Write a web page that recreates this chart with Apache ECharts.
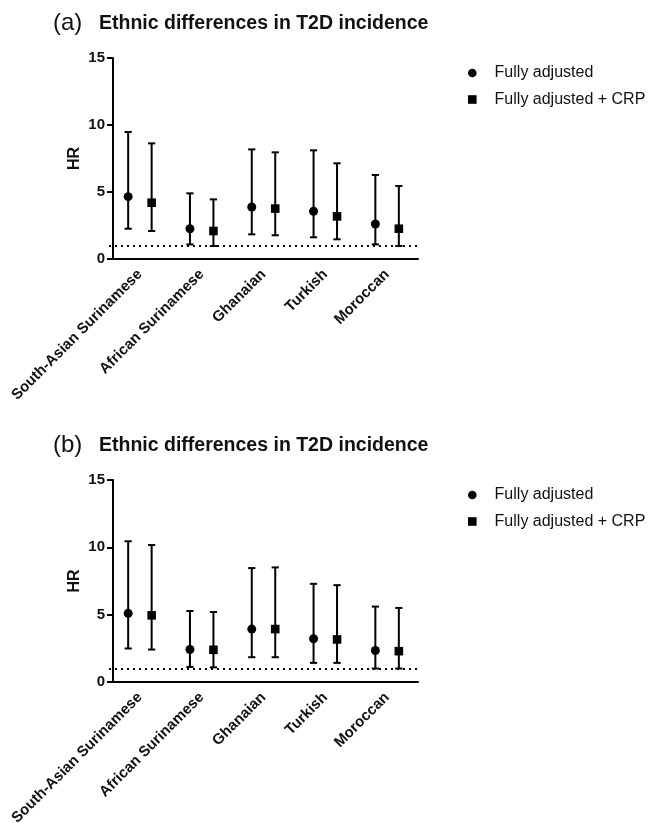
<!DOCTYPE html>
<html>
<head>
<meta charset="utf-8">
<script src="https://cdn.jsdelivr.net/npm/echarts@6/dist/echarts.min.js"></script>
<style>
html,body{margin:0;padding:0;background:#fff;}
#chart{width:648px;height:823px;}
</style>
</head>
<body>
<div id="chart"></div>
<script>
const categories = ['South-Asian Surinamese','African Surinamese','Ghanaian','Turkish','Moroccan'];
const seriesNames = ['Fully adjusted','Fully adjusted + CRP'];
const panelLabels = ['(a)','(b)'];
const panelTitle = 'Ethnic differences in T2D incidence';
const yAxisName = 'HR';
const yMin = 0, yMax = 15, yInterval = 5;
const refLine = 1;

// Panel (a)
const aFullHR = [4.65, 2.26, 3.88, 3.56, 2.61];
const aFullLo = [2.26, 1.09, 1.84, 1.62, 1.09];
const aFullHi = [9.48, 4.90, 8.18, 8.11, 6.27];
const aCrpHR  = [4.20, 2.09, 3.76, 3.18, 2.26];
const aCrpLo  = [2.09, 0.97, 1.77, 1.47, 0.97];
const aCrpHi  = [8.63, 4.45, 7.96, 7.14, 5.45];

// Panel (b)
const bFullHR = [5.10, 2.41, 3.93, 3.21, 2.34];
const bFullLo = [2.49, 1.12, 1.84, 1.42, 1.00];
const bFullHi = [10.45, 5.27, 8.46, 7.29, 5.60];
const bCrpHR  = [4.95, 2.39, 3.93, 3.16, 2.29];
const bCrpLo  = [2.41, 1.09, 1.84, 1.42, 1.00];
const bCrpHi  = [10.17, 5.20, 8.51, 7.19, 5.50];

const FONT = 'Arial, "Liberation Sans", Helvetica, sans-serif';

function rows(hr, lo, hi){ return hr.map((v,i)=>[i, v, lo[i], hi[i]]); }

function makeRender(side, shape){
  return function(params, api){
    const x = api.value(0);
    const p = api.coord([x, api.value(1)]);
    const lo = api.coord([x, api.value(2)]);
    const hi = api.coord([x, api.value(3)]);
    const bw = api.size([1, 0])[0];
    const cx = p[0] + side * bw * 0.19;
    const cap = 3.6;
    const st = {stroke:'#000', lineWidth:2, fill:null};
    const children = [
      {type:'line', shape:{x1:cx, y1:lo[1], x2:cx, y2:hi[1]}, style:st},
      {type:'line', shape:{x1:cx-cap, y1:lo[1], x2:cx+cap, y2:lo[1]}, style:st},
      {type:'line', shape:{x1:cx-cap, y1:hi[1], x2:cx+cap, y2:hi[1]}, style:st}
    ];
    if(shape === 'circle'){
      children.push({type:'circle', shape:{cx:cx, cy:p[1], r:4.5}, style:{fill:'#000'}});
    } else {
      children.push({type:'rect', shape:{x:cx-4.3, y:p[1]-4.3, width:8.6, height:8.6}, style:{fill:'#000'}});
    }
    return {type:'group', children:children};
  };
}

const gridTops = [58, 480];
const gridH = [201, 202];

const option = {
  animation:false,
  backgroundColor:'#fff',
  title:[],
  legend:[],
  grid:[],
  xAxis:[],
  yAxis:[],
  series:[]
};

const panelData = [
  [rows(aFullHR,aFullLo,aFullHi), rows(aCrpHR,aCrpLo,aCrpHi)],
  [rows(bFullHR,bFullLo,bFullHi), rows(bCrpHR,bCrpLo,bCrpHi)]
];

for(let k=0;k<2;k++){
  const top = gridTops[k];
  option.title.push({
    text: panelLabels[k], left:53, top: top-47, padding:0,
    textStyle:{fontFamily:FONT, fontSize:24, fontWeight:'normal', color:'#111'}
  });
  option.title.push({
    text: panelTitle, left:99, top: top-44, padding:0,
    textStyle:{fontFamily:FONT, fontSize:19.5, fontWeight:'bold', color:'#111'}
  });
  option.legend.push({
    orient:'vertical', left:468, top: top+7, padding:0,
    itemWidth:8.6, itemHeight:8.6, itemGap:10.5,
    selectedMode:false,
    textStyle:{fontFamily:FONT, fontSize:16, color:'#111', padding:[0,0,0,13]},
    data:[{name:seriesNames[0], icon:'circle'}, {name:seriesNames[1], icon:'rect'}]
  });
  option.grid.push({left:109, top:top, width:309, height:gridH[k], containLabel:false, outerBoundsMode:'none'});
  option.xAxis.push({
    type:'category', gridIndex:k, data:categories, boundaryGap:true,
    axisLine:{lineStyle:{color:'#000', width:2}},
    axisTick:{alignWithLabel:true, length:7, lineStyle:{color:'#000', width:2}},
    axisLabel:{rotate:45, margin:13, interval:0, fontFamily:FONT, fontSize:15, fontWeight:'bold', color:'#111'},
    splitLine:{show:false}
  });
  option.yAxis.push({
    type:'value', gridIndex:k, min:yMin, max:yMax, interval:yInterval, offset:-4,
    name:yAxisName, nameLocation:'middle', nameGap:30,
    nameTextStyle:{fontFamily:FONT, fontSize:16, fontWeight:'bold', color:'#111'},
    axisLine:{show:true, lineStyle:{color:'#000', width:2}},
    axisTick:{show:true, length:6, lineStyle:{color:'#000', width:2}},
    axisLabel:{margin:8, fontFamily:FONT, fontSize:15, fontWeight:'bold', color:'#111'},
    splitLine:{show:false}
  });
  option.series.push({
    type:'line', name:'ref'+k, xAxisIndex:k, yAxisIndex:k, data:[], silent:true,
    markLine:{
      symbol:['none','none'], silent:true, label:{show:false},
      lineStyle:{color:'#000', width:2, type:[2,4]},
      data:[{yAxis:refLine}]
    }
  });
  option.series.push({
    type:'custom', name:seriesNames[0], xAxisIndex:k, yAxisIndex:k,
    itemStyle:{color:'#000'}, color:'#000',
    renderItem: makeRender(-1, 'circle'), data: panelData[k][0]
  });
  option.series.push({
    type:'custom', name:seriesNames[1], xAxisIndex:k, yAxisIndex:k,
    itemStyle:{color:'#000'}, color:'#000',
    renderItem: makeRender(1, 'rect'), data: panelData[k][1]
  });
}

const chart = echarts.init(document.getElementById('chart'), null, {renderer:'canvas'});
chart.setOption(option);
</script>
</body>
</html>
